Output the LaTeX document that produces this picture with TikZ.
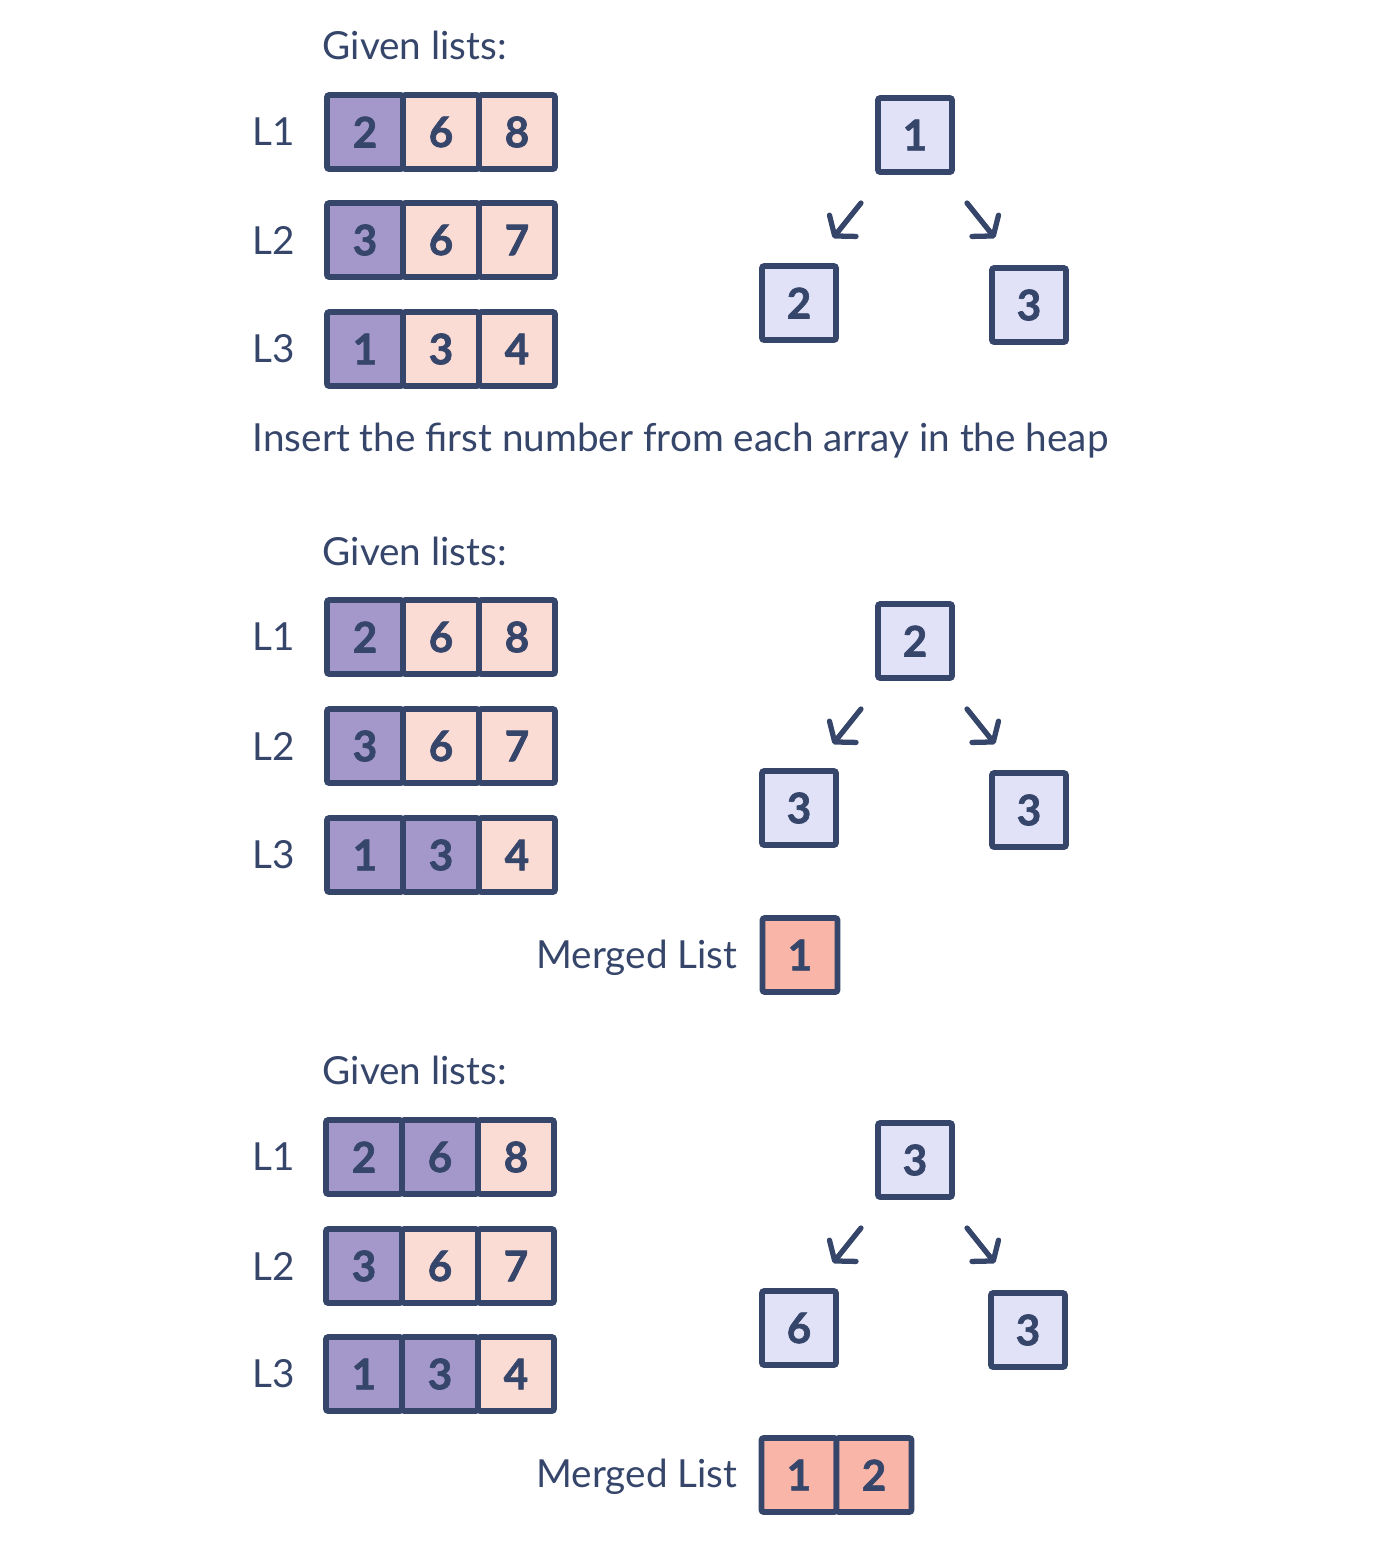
\documentclass[tikz,border=0pt]{standalone}
\usepackage{fontspec}
\setmainfont{Lato}
\newfontfamily\digitfont{Lato}[BoldFeatures={FakeBold=1.6}]
\usetikzlibrary{arrows.meta}
\definecolor{ink}{HTML}{36466B}
\definecolor{heldfill}{HTML}{A398C9}
\definecolor{restfill}{HTML}{FADCD5}
\definecolor{heapfill}{HTML}{E1E1F7}
\definecolor{mergefill}{HTML}{F9B5A8}
\tikzset{
	txt/.style={text=ink, anchor=west, inner sep=0pt, font=\fontsize{11}{13}\selectfont},
	cell/.style={draw=ink, line width=1.6pt, rounded corners=0.6pt, text=ink, inner sep=0pt,
		minimum width=0.76cm, minimum height=0.74cm, font=\fontsize{12}{14}\selectfont\digitfont\bfseries},
	heapbox/.style={cell, fill=heapfill, minimum width=0.74cm},
	mergebox/.style={cell, fill=mergefill, minimum width=0.75cm},
	heaparrow/.style={draw=ink, line width=1.5pt, line cap=round,
		-{Straight Barb[length=1.3mm, width=3.4mm, line cap=round, round]}},
}
\begin{document}
\begin{tikzpicture}[x=0.01cm, y=-0.01cm]
	\useasboundingbox (0,0) rectangle (1380,1562);

	% step 1: first numbers go into the heap
	\begin{scope}[name prefix=a-]
		\def\heldA{1}
		\def\heldB{1}
		\def\heldC{1}
		\node[txt] (given) at (322,45) {Given lists:};
		\foreach \lab/\y/\k/\p/\q/\r in {L1/132/\heldA/2/6/8, L2/240/\heldB/3/6/7, L3/349/\heldC/1/3/4}{%
			\node[txt] (\lab) at (252,\y) {\lab};
			\foreach \v [count=\i] in {\p,\q,\r}{%
				\ifnum\i>\k \def\cellfill{restfill}\else\def\cellfill{heldfill}\fi
				\node[cell, fill=\cellfill] (\lab-\i) at (289+76*\i,\y) {\v};
			}
		}
		\node[heapbox] (root) at (915,135) {1};
		\node[heapbox] (left) at (799,303) {2};
		\node[heapbox] (right) at (1029,305) {3};
		\draw[heaparrow] ([shift={(-54,68)}]root.center) -- ([shift={(34,-65)}]left.center);
		\draw[heaparrow] ([shift={(52,68)}]root.center) -- ([shift={(-34,-67)}]right.center);
		\node[txt] (note) at (252,441) {Insert the first number from each array in the heap};
	\end{scope}

	% step 2: pop 1, push 3 from L3
	\begin{scope}[shift={(0,506)}, name prefix=b-]
		\def\heldA{1}
		\def\heldB{1}
		\def\heldC{2}
		\node[txt] (given) at (322,45) {Given lists:};
		\foreach \lab/\y/\k/\p/\q/\r in {L1/131/\heldA/2/6/8, L2/240/\heldB/3/6/7, L3/349/\heldC/1/3/4}{%
			\node[txt] (\lab) at (252,\y) {\lab};
			\foreach \v [count=\i] in {\p,\q,\r}{%
				\ifnum\i>\k \def\cellfill{restfill}\else\def\cellfill{heldfill}\fi
				\node[cell, fill=\cellfill] (\lab-\i) at (289+76*\i,\y) {\v};
			}
		}
		\node[heapbox] (root) at (915,135) {2};
		\node[heapbox] (left) at (799,302) {3};
		\node[heapbox] (right) at (1029,304) {3};
		\draw[heaparrow] ([shift={(-54,68)}]root.center) -- ([shift={(34,-64)}]left.center);
		\draw[heaparrow] ([shift={(52,68)}]root.center) -- ([shift={(-34,-66)}]right.center);
		\node[txt, anchor=east] (merged) at (738,452) {Merged List};
		\node[mergebox] (m1) at (800,449) {1};
	\end{scope}

	% step 3: pop 2, push 6 from L1
	\begin{scope}[shift={(0,1025)}, name prefix=c-]
		\def\heldA{2}
		\def\heldB{1}
		\def\heldC{2}
		\node[txt] (given) at (322,45) {Given lists:};
		\foreach \lab/\y/\k/\p/\q/\r in {L1/132/\heldA/2/6/8, L2/241/\heldB/3/6/7, L3/349/\heldC/1/3/4}{%
			\node[txt] (\lab) at (252,\y) {\lab};
			\foreach \v [count=\i] in {\p,\q,\r}{%
				\ifnum\i>\k \def\cellfill{restfill}\else\def\cellfill{heldfill}\fi
				\node[cell, fill=\cellfill] (\lab-\i) at (288+76*\i,\y) {\v};
			}
		}
		\node[heapbox] (root) at (915,135) {3};
		\node[heapbox] (left) at (799,303) {6};
		\node[heapbox] (right) at (1028,305) {3};
		\draw[heaparrow] ([shift={(-54,68)}]root.center) -- ([shift={(34,-65)}]left.center);
		\draw[heaparrow] ([shift={(52,68)}]root.center) -- ([shift={(-33,-67)}]right.center);
		\node[txt, anchor=east] (merged) at (738,452) {Merged List};
		\node[mergebox] (m1) at (799,450) {1};
		\node[mergebox] (m2) at (874,450) {2};
	\end{scope}
\end{tikzpicture}
\end{document}
